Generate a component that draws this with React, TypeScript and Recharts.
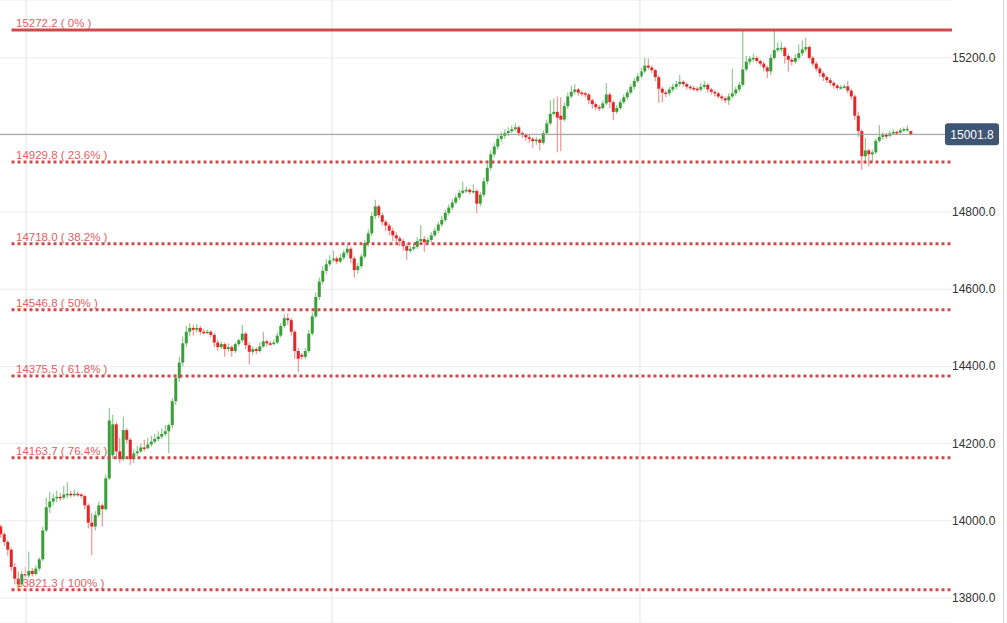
import React from "react";
import {
  ComposedChart,
  Bar,
  XAxis,
  YAxis,
  CartesianGrid,
  ReferenceLine,
} from "recharts";

// ---------------------------------------------------------------------------
// Candles [open, high, low, close], one list per stretch of the session
// ---------------------------------------------------------------------------

const openingSlide: number[][] = [
  [13985, 13990, 13955, 13965], [13965, 13970, 13935, 13945], [13945, 13950, 13910, 13925],
  [13925, 13930, 13870, 13880], [13880, 13890, 13835, 13850], [13850, 13868, 13821.3, 13835],
  [13835, 13870, 13830, 13862], [13862, 13880, 13850, 13858], [13858, 13920, 13852, 13870],
  [13870, 13878, 13855, 13862], [13862, 13885, 13858, 13876], [13876, 13905, 13870, 13900],
  [13900, 13985, 13895, 13975], [13975, 14060, 13970, 14035], [14035, 14075, 14020, 14050],
  [14050, 14070, 14040, 14058], [14058, 14078, 14048, 14062], [14062, 14072, 14052, 14060],
  [14060, 14090, 14055, 14068], [14068, 14100, 14058, 14070], [14070, 14078, 14060, 14066],
  [14066, 14080, 14062, 14070], [14070, 14076, 14062, 14068], [14068, 14072, 14058, 14064],
  [14064, 14068, 14030, 14040], [14040, 14045, 13980, 13995], [13995, 14020, 13911, 13985],
  [13985, 14025, 13975, 14015], [14015, 14050, 14010, 14040], [14040, 14045, 13985, 14030],
];

const firstBreakout: number[][] = [
  [14030, 14120, 14025, 14110], [14110, 14292, 14105, 14260], [14170, 14275, 14160, 14250],
  [14250, 14255, 14160, 14180], [14180, 14215, 14150, 14160], [14160, 14270, 14155, 14235],
  [14235, 14240, 14200, 14210], [14210, 14215, 14145, 14160], [14160, 14185, 14150, 14175],
  [14175, 14195, 14168, 14180], [14180, 14200, 14175, 14190], [14190, 14210, 14180, 14188],
  [14188, 14215, 14185, 14198], [14198, 14220, 14192, 14205], [14205, 14225, 14200, 14212],
  [14212, 14232, 14206, 14218], [14218, 14240, 14212, 14225], [14225, 14248, 14220, 14232],
  [14232, 14252, 14175, 14248], [14248, 14318, 14240, 14310], [14310, 14380, 14300, 14370],
  [14370, 14425, 14360, 14410],
];

const middleRange: number[][] = [
  [14410, 14478, 14400, 14460], [14460, 14505, 14450, 14490], [14490, 14512, 14478, 14500],
  [14500, 14508, 14480, 14495], [14495, 14510, 14488, 14500], [14500, 14505, 14482, 14490],
  [14490, 14498, 14482, 14488], [14488, 14496, 14484, 14490], [14490, 14494, 14476, 14482],
  [14482, 14486, 14450, 14462], [14462, 14470, 14440, 14450], [14450, 14465, 14445, 14458],
  [14458, 14462, 14425, 14445], [14445, 14460, 14438, 14450], [14450, 14455, 14425, 14440],
  [14440, 14462, 14435, 14458], [14458, 14472, 14452, 14468], [14468, 14508, 14462, 14485],
  [14485, 14490, 14445, 14455], [14455, 14462, 14405, 14438], [14438, 14452, 14430, 14445],
  [14445, 14450, 14432, 14440], [14440, 14462, 14436, 14452], [14452, 14490, 14448, 14465],
  [14465, 14470, 14452, 14460], [14460, 14466, 14454, 14458], [14458, 14470, 14455, 14462],
  [14462, 14488, 14458, 14480], [14480, 14512, 14475, 14505], [14505, 14535, 14500, 14525],
  [14525, 14538, 14508, 14520], [14520, 14525, 14480, 14490], [14490, 14495, 14420, 14440],
  [14440, 14448, 14386, 14420], [14430, 14435, 14418, 14425], [14425, 14448, 14420, 14440],
  [14440, 14495, 14435, 14485], [14485, 14540, 14480, 14530], [14530, 14592, 14525, 14580],
  [14580, 14630, 14572, 14620],
];

const secondLeg: number[][] = [
  [14620, 14660, 14612, 14648], [14648, 14678, 14640, 14665], [14665, 14688, 14660, 14675],
  [14675, 14700, 14670, 14680], [14680, 14685, 14665, 14672], [14672, 14692, 14668, 14682],
  [14682, 14702, 14676, 14695], [14695, 14715, 14688, 14705], [14705, 14710, 14668, 14680],
  [14680, 14685, 14630, 14650], [14650, 14668, 14640, 14660], [14660, 14692, 14655, 14685],
  [14685, 14728, 14680, 14720], [14720, 14755, 14712, 14745], [14745, 14800, 14738, 14790],
  [14790, 14832, 14782, 14815], [14815, 14820, 14785, 14792], [14792, 14798, 14765, 14775],
  [14775, 14780, 14750, 14765], [14765, 14770, 14740, 14752], [14752, 14760, 14725, 14740],
  [14740, 14748, 14715, 14732], [14732, 14738, 14712, 14725], [14725, 14730, 14700, 14712],
  [14712, 14718, 14676, 14700], [14700, 14712, 14695, 14705], [14705, 14718, 14700, 14710],
  [14710, 14735, 14705, 14725], [14725, 14767, 14720, 14730], [14730, 14738, 14697, 14722],
  [14722, 14735, 14715, 14728], [14728, 14748, 14722, 14740], [14740, 14760, 14735, 14752],
  [14752, 14775, 14746, 14768], [14768, 14790, 14762, 14780], [14780, 14806, 14774, 14798],
  [14798, 14820, 14792, 14812], [14812, 14834, 14805, 14825], [14825, 14846, 14820, 14838],
  [14838, 14858, 14832, 14850], [14850, 14879, 14846, 14856], [14856, 14866, 14850, 14858],
  [14858, 14862, 14846, 14852], [14852, 14872, 14848, 14855], [14855, 14860, 14798, 14822],
  [14822, 14852, 14815, 14845], [14845, 14890, 14840, 14880], [14880, 14925, 14872, 14915],
];

const pushToHigh: number[][] = [
  [14915, 14960, 14908, 14950], [14950, 14980, 14942, 14970], [14970, 15000, 14962, 14990],
  [14990, 15008, 14982, 14998], [14998, 15015, 14990, 15005], [15005, 15020, 14998, 15010],
  [15010, 15025, 15005, 15015], [15015, 15030, 15010, 15020], [15020, 15024, 14998, 15005],
  [15005, 15010, 14992, 15000], [15000, 15004, 14985, 14994], [14994, 15000, 14980, 14990],
  [14990, 14995, 14966, 14984], [14984, 14995, 14975, 14988], [14988, 14992, 14960, 14980],
  [14980, 15012, 14975, 15005], [15005, 15040, 15000, 15030], [15030, 15090, 15025, 15055],
  [15055, 15095, 15050, 15060], [15060, 15100, 14955, 15045], [15050, 15098, 14958, 15040],
  [15040, 15085, 15035, 15075], [15075, 15110, 15068, 15100], [15100, 15128, 15095, 15112],
  [15112, 15132, 15105, 15118], [15118, 15122, 15102, 15110], [15110, 15115, 15100, 15108],
  [15108, 15112, 15098, 15105], [15105, 15110, 15080, 15090], [15090, 15095, 15068, 15080],
  [15080, 15085, 15065, 15072], [15072, 15078, 15062, 15070], [15070, 15090, 15066, 15082],
  [15082, 15135, 15078, 15105], [15105, 15110, 15070, 15085], [15085, 15090, 15039, 15060],
  [15060, 15078, 15055, 15070], [15070, 15092, 15065, 15085], [15085, 15105, 15080, 15098],
  [15098, 15118, 15092, 15110], [15110, 15132, 15105, 15125], [15125, 15148, 15118, 15140],
  [15140, 15160, 15135, 15152], [15152, 15175, 15148, 15165], [15165, 15200, 15160, 15180],
];

const topping: number[][] = [
  [15180, 15198, 15170, 15175], [15175, 15180, 15160, 15168], [15168, 15172, 15140, 15150],
  [15150, 15155, 15083, 15120], [15120, 15125, 15085, 15110], [15110, 15115, 15098, 15108],
  [15108, 15125, 15102, 15118], [15118, 15132, 15112, 15125], [15125, 15140, 15118, 15132],
  [15132, 15156, 15126, 15138], [15138, 15142, 15125, 15132], [15132, 15136, 15118, 15125],
  [15125, 15130, 15116, 15122], [15122, 15128, 15114, 15120], [15120, 15125, 15112, 15118],
  [15118, 15135, 15112, 15125], [15125, 15140, 15120, 15130], [15130, 15134, 15110, 15118],
  [15118, 15122, 15105, 15112], [15112, 15116, 15100, 15108], [15108, 15112, 15095, 15100],
  [15100, 15105, 15088, 15095], [15095, 15100, 15083, 15090], [15090, 15108, 15078, 15100],
  [15100, 15172, 15095, 15108], [15108, 15125, 15102, 15118], [15118, 15138, 15112, 15130],
  [15130, 15272.2, 15125, 15170], [15170, 15205, 15165, 15190], [15190, 15205, 15182, 15198],
  [15198, 15210, 15190, 15200], [15200, 15204, 15186, 15192], [15192, 15196, 15178, 15185],
  [15185, 15190, 15165, 15175], [15175, 15180, 15148, 15165], [15165, 15210, 15155, 15200],
  [15200, 15270, 15195, 15220], [15220, 15240, 15215, 15225], [15225, 15242, 15215, 15226],
  [15226, 15230, 15185, 15205], [15205, 15210, 15164, 15195], [15195, 15200, 15180, 15190],
  [15190, 15210, 15185, 15200], [15200, 15235, 15195, 15212], [15212, 15245, 15205, 15222],
  [15222, 15252, 15215, 15228],
];

const lateSelloff: number[][] = [
  [15228, 15232, 15195, 15200], [15200, 15205, 15178, 15185], [15185, 15190, 15165, 15172],
  [15172, 15178, 15150, 15160], [15160, 15165, 15140, 15150], [15150, 15155, 15135, 15142],
  [15142, 15148, 15128, 15135], [15135, 15140, 15120, 15128], [15128, 15132, 15116, 15122],
  [15122, 15130, 15118, 15124], [15124, 15132, 15120, 15126], [15126, 15140, 15108, 15115],
  [15115, 15120, 15092, 15100], [15100, 15105, 15040, 15050], [15050, 15060, 14995, 15010],
  [15010, 15015, 14910, 14945], [14945, 14993, 14925, 14960], [14960, 14965, 14918, 14950],
  [14950, 14962, 14930, 14955], [14955, 14990, 14950, 14985], [14985, 15026, 14980, 14995],
  [14995, 15008, 14988, 15000], [15000, 15005, 14990, 14998], [14998, 15012, 14994, 15004],
  [15004, 15015, 15000, 15008], [15008, 15012, 15000, 15006], [15006, 15018, 15004, 15012],
  [15012, 15020, 15008, 15015], [15015, 15024, 15008, 15016], [15010, 15012, 14999, 15001.8],
];

// Fibonacci retracement levels (high 15272.2 -> low 13821.3)
const fibLevels = [15272.2, 14929.8, 14718.0, 14546.8, 14375.5, 14163.7, 13821.3];
const fibPercents = ["0%", "23.6%", "38.2%", "50%", "61.8%", "76.4%", "100%"];

const yTicks = [13800, 14000, 14200, 14400, 14600, 14800, 15000, 15200];
const lastPrice = 15001.8;

// bar-index positions of the vertical session separators
const sessionBreaks = [7.15, 94.6, 182.55];
const fibStartIndex = 3;

// ---------------------------------------------------------------------------
// Styling
// ---------------------------------------------------------------------------

const UP_BODY = "#39a039";
const UP_WICK = "#79bf79";
const DOWN_BODY = "#e42626";
const DOWN_WICK = "#ec8080";
const FIB_COLOR = "#cf4a4a";
const FIB_TEXT = "#e06161";
const FONT = "'Liberation Sans', Arial, sans-serif";

const X_DOMAIN: [number, number] = [-0.29, 271.7];
const Y_DOMAIN: [number, number] = [13735, 15350];

const candles = [
  ...openingSlide,
  ...firstBreakout,
  ...middleRange,
  ...secondLeg,
  ...pushToHigh,
  ...topping,
  ...lateSelloff,
].map(([open, high, low, close], i) => ({
  i,
  open,
  high,
  low,
  close,
  range: [low, high],
}));

// ---------------------------------------------------------------------------
// Candle shape (Bar spans low..high; body is placed inside it)
// ---------------------------------------------------------------------------

function Candle(props: any) {
  const { x, width, payload } = props;
  let { y, height } = props;
  if (height < 0) {
    y += height;
    height = -height;
  }
  const { open, high, low, close } = payload;
  const up = close >= open;
  const ppu = height / (high - low);
  const cx = x + width / 2;
  const top = y + (high - Math.max(open, close)) * ppu;
  const bottom = y + (high - Math.min(open, close)) * ppu;
  return (
    <g>
      <line
        x1={cx}
        x2={cx}
        y1={y}
        y2={y + height}
        stroke={up ? UP_WICK : DOWN_WICK}
        strokeWidth={1}
      />
      <rect
        x={cx - 1.5}
        y={top}
        width={3}
        height={Math.max(1.5, bottom - top)}
        fill={up ? UP_BODY : DOWN_BODY}
      />
    </g>
  );
}

// the 15000 label sits under the last-price tag
function PriceTick({ x, y, payload }: any) {
  if (Math.abs(payload.value - lastPrice) < 20) return null;
  return (
    <text x={x} y={y} dy={4} fontSize={12} fill="#333" fontFamily={FONT} textAnchor="start">
      {payload.value.toFixed(1)}
    </text>
  );
}

function fibLabel(value: number, pct: string) {
  return ({ viewBox }: any) => (
    <text
      x={viewBox.x + 4.5}
      y={viewBox.y - 3}
      fontSize={11.5}
      fill={FIB_TEXT}
      fontFamily={FONT}
    >
      {`${value.toFixed(1)} ( ${pct} )`}
    </text>
  );
}

function LastPriceTag({ viewBox }: any) {
  const right = viewBox.x + viewBox.width;
  return (
    <g>
      <rect x={right - 7} y={viewBox.y - 11} width={54} height={22} rx={3} fill="#3f5574" />
      <text
        x={right + 20}
        y={viewBox.y + 4.5}
        fontSize={12}
        fill="#fff"
        fontFamily={FONT}
        textAnchor="middle"
      >
        {lastPrice.toFixed(1)}
      </text>
    </g>
  );
}

export default function App() {
  return (
    <div
      style={{
        position: "absolute",
        left: 0,
        top: 0,
        width: 1007,
        height: 623,
        background: "#fff",
        overflow: "hidden",
      }}
    >
      <ComposedChart
        width={1004}
        height={623}
        data={candles}
        margin={{ top: 0, right: 0, bottom: 0, left: 0 }}
      >
        <CartesianGrid vertical={false} stroke="#ececec" />
        <XAxis
          dataKey="i"
          type="number"
          domain={X_DOMAIN}
          allowDataOverflow
          hide
        />
        <YAxis
          orientation="right"
          domain={Y_DOMAIN}
          ticks={yTicks}
          allowDataOverflow
          axisLine={false}
          tickLine={false}
          tickSize={0}
          tickMargin={0}
          width={52}
          tick={<PriceTick />}
        />
        {sessionBreaks.map((b) => (
          <ReferenceLine key={b} x={b} stroke="#e4e4e4" strokeWidth={1} />
        ))}
        <Bar
          dataKey="range"
          barSize={3}
          shape={<Candle />}
          isAnimationActive={false}
        />
        {fibLevels.map((v, k) => (
          <ReferenceLine
            key={v}
            segment={[
              { x: fibStartIndex, y: v },
              { x: X_DOMAIN[1], y: v },
            ]}
            stroke={FIB_COLOR}
            strokeWidth={3}
            strokeDasharray={k === 0 ? undefined : "3 3"}
            label={fibLabel(v, fibPercents[k])}
          />
        ))}
        <ReferenceLine
          y={lastPrice}
          stroke="#9a9a9a"
          strokeWidth={1}
          label={<LastPriceTag />}
        />
      </ComposedChart>
      <div
        style={{
          position: "absolute",
          left: 1003,
          top: 0,
          width: 1,
          height: 623,
          background: "#d6d6d6",
        }}
      />
    </div>
  );
}
